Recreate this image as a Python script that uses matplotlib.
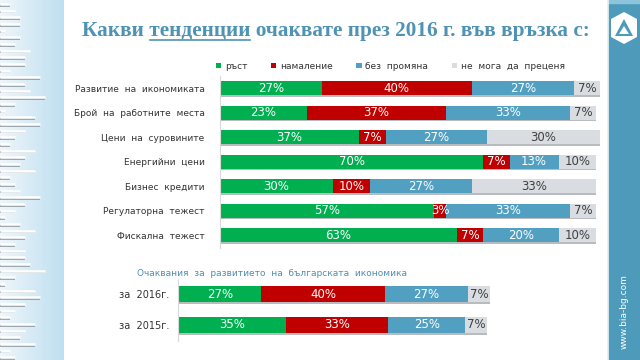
import matplotlib
matplotlib.use('Agg')
import matplotlib.pyplot as plt
import numpy as np
from matplotlib.patches import Patch, Polygon

# --- данни ---
categories = ["Развитие  на  икономиката", "Брой  на  работните  места", "Цени  на  суровините",
              "Енергийни  цени", "Бизнес  кредити", "Регулаторна  тежест", "Фискална  тежест"]
growth = [27, 23, 37, 70, 30, 57, 63]
decline = [40, 37, 7, 7, 10, 3, 7]
no_change = [27, 33, 27, 13, 27, 33, 20]
cant_say = [7, 7, 30, 10, 33, 7, 10]

years = ["за  2016г.", "за  2015г."]
y_growth = [27, 35]
y_decline = [40, 33]
y_no_change = [27, 25]
y_cant_say = [7, 7]

series_names = ["ръст", "намаление", "без  промяна", "не  мога  да  преценя"]
colors = ["#00b050", "#c00000", "#519fc1", "#d9dde1"]
text_colors = ["white", "white", "white", "#404040"]

# декоративни ленти вляво (дължини в пиксели)
deco_lengths = [10, 15, 20, 20, 5, 20, 15, 30, 25, 25, 10, 40, 25, 30, 45, 15, 5, 35, 40, 25,
                15, 10, 35, 25, 20, 35, 10, 15, 20, 40, 25, 15, 5, 20, 35, 25, 15, 25, 25, 30,
                45, 15, 5, 35, 40, 25, 15, 10, 35, 25, 20, 35, 10, 15]

W, H = 640, 360
fig = plt.figure(figsize=(6.4, 3.6), dpi=100)
fig.patch.set_facecolor("white")

# фон / декорация в пикселни координати
bg = fig.add_axes([0, 0, 1, 1], zorder=0)
bg.set_xlim(0, W)
bg.set_ylim(H, 0)
bg.axis("off")
grad = np.linspace(0, 1, 64)[None, :]
bg.imshow(grad, extent=(0, 64, H, 0), cmap=matplotlib.colors.LinearSegmentedColormap.from_list(
    "g", ["#eef6fb", "#bfdff0"]), aspect="auto", zorder=0)
step = H / len(deco_lengths)
for i, ln in enumerate(deco_lengths):
    yy = 4 + i * step
    bg.plot([0, ln], [yy + 1.6, yy + 1.6], color="#8f989f", lw=1.2, zorder=1, solid_capstyle="butt")
    bg.plot([0, ln], [yy, yy], color="white", lw=1.8, zorder=2, solid_capstyle="butt")
bg.fill_between([608, 640], 0, H, color="#4d9aba", zorder=1)
bg.fill_between([608, 640], 0, 3, color="#8cc4dc", zorder=2)
bg.plot([608, 608], [0, H], color="#e8f2f7", lw=1.2, zorder=2)
bg.add_patch(Polygon([(611, 19), (624, 12), (637, 19), (637, 37), (624, 44), (611, 37)],
                     closed=True, facecolor="white", edgecolor="none", zorder=3))
bg.add_patch(Polygon([(624, 19), (615, 36), (633, 36)], closed=True, facecolor="#4d9aba",
                     edgecolor="none", zorder=4))
bg.add_patch(Polygon([(624, 26), (619, 34), (629, 34)], closed=True, facecolor="white",
                     edgecolor="none", zorder=5))
bg.text(624, 312, "www.bia-bg.com", rotation=90, color="white", fontsize=6.5,
        ha="center", va="center", zorder=5)

# заглавие
title_parts = ["Какви ", "тенденции", " очаквате през 2016 г. във връзка с:"]
title_kw = dict(fontsize=16, fontweight="bold", family="Liberation Serif", color="#4f93b4")
tx, ty, tw = 82, 31, 508
fig.canvas.draw()
r = fig.canvas.get_renderer()
inv = bg.transData.inverted()


def text_width(s):
    t = bg.text(tx, ty, s, ha="left", va="center", **title_kw)
    bb = t.get_window_extent(renderer=r)
    t.remove()
    return inv.transform((bb.x1, 0))[0] - inv.transform((bb.x0, 0))[0]


title_kw["fontsize"] *= tw / text_width("".join(title_parts))
bg.text(tx, ty, "".join(title_parts), ha="left", va="center", **title_kw)
u0 = tx + text_width(title_parts[0] + "x") - text_width("x")
u1 = tx + text_width(title_parts[0] + title_parts[1])
bg.plot([u0 + 1, u1 - 1], [ty + 9, ty + 9], color="#4f93b4", lw=1.2)


def stacked(ax, values, labels, shadow_off, bh):
    n = len(labels)
    ypos = np.arange(n)
    totals = np.sum(values, axis=0)
    left = np.zeros(n)
    ax.barh(ypos + shadow_off, totals, height=bh, color="#b9bcbf", zorder=1)
    for vals, c, tc in zip(values, colors, text_colors):
        vals = np.array(vals, dtype=float)
        ax.barh(ypos, vals, left=left, height=bh, color=c, zorder=2)
        for yv, l, v in zip(ypos, left, vals):
            ax.text(l + v / 2, yv, f"{int(v)}%", ha="center", va="center", color=tc,
                    fontsize=8.5, zorder=3)
        left += vals
    ax.set_yticks(ypos)
    ax.set_yticklabels(labels)
    ax.set_ylim(n - 0.5, -0.5)
    ax.set_xlim(0, 101)
    ax.set_xticks([])
    for s in ["top", "right", "bottom"]:
        ax.spines[s].set_visible(False)
    ax.spines["left"].set_color("#d9d9d9")
    ax.tick_params(axis="y", length=0, pad=11, labelsize=6.5, labelcolor="#333333")
    ax.set_facecolor("none")


ax = fig.add_axes([220 / W, 112.5 / H, 380 / W, 171.5 / H], zorder=2)
stacked(ax, [growth, decline, no_change, cant_say], categories, 0.07, 0.57)
handles = [Patch(facecolor=c, edgecolor="none") for c in colors]
ax.legend(handles, series_names, ncol=4, loc="lower left", bbox_to_anchor=(-0.025, 1.0),
          frameon=False, fontsize=6.5, handlelength=0.6, handleheight=0.6, handletextpad=0.4,
          columnspacing=2.6, labelcolor="#333333", borderaxespad=0.2)

ax2 = fig.add_axes([178 / W, 19.5 / H, 312 / W, 62 / H], zorder=2)
stacked(ax2, [y_growth, y_decline, y_no_change, y_cant_say], years, 0.05, 0.52)
ax2.tick_params(axis="y", pad=6, labelsize=7)
bg.text(137, 274, "Очаквания  за  развитието  на  българската  икономика", color="#4f8fb0",
        fontsize=6.5, ha="left", va="center")

fig.savefig("out.png", dpi=100)
